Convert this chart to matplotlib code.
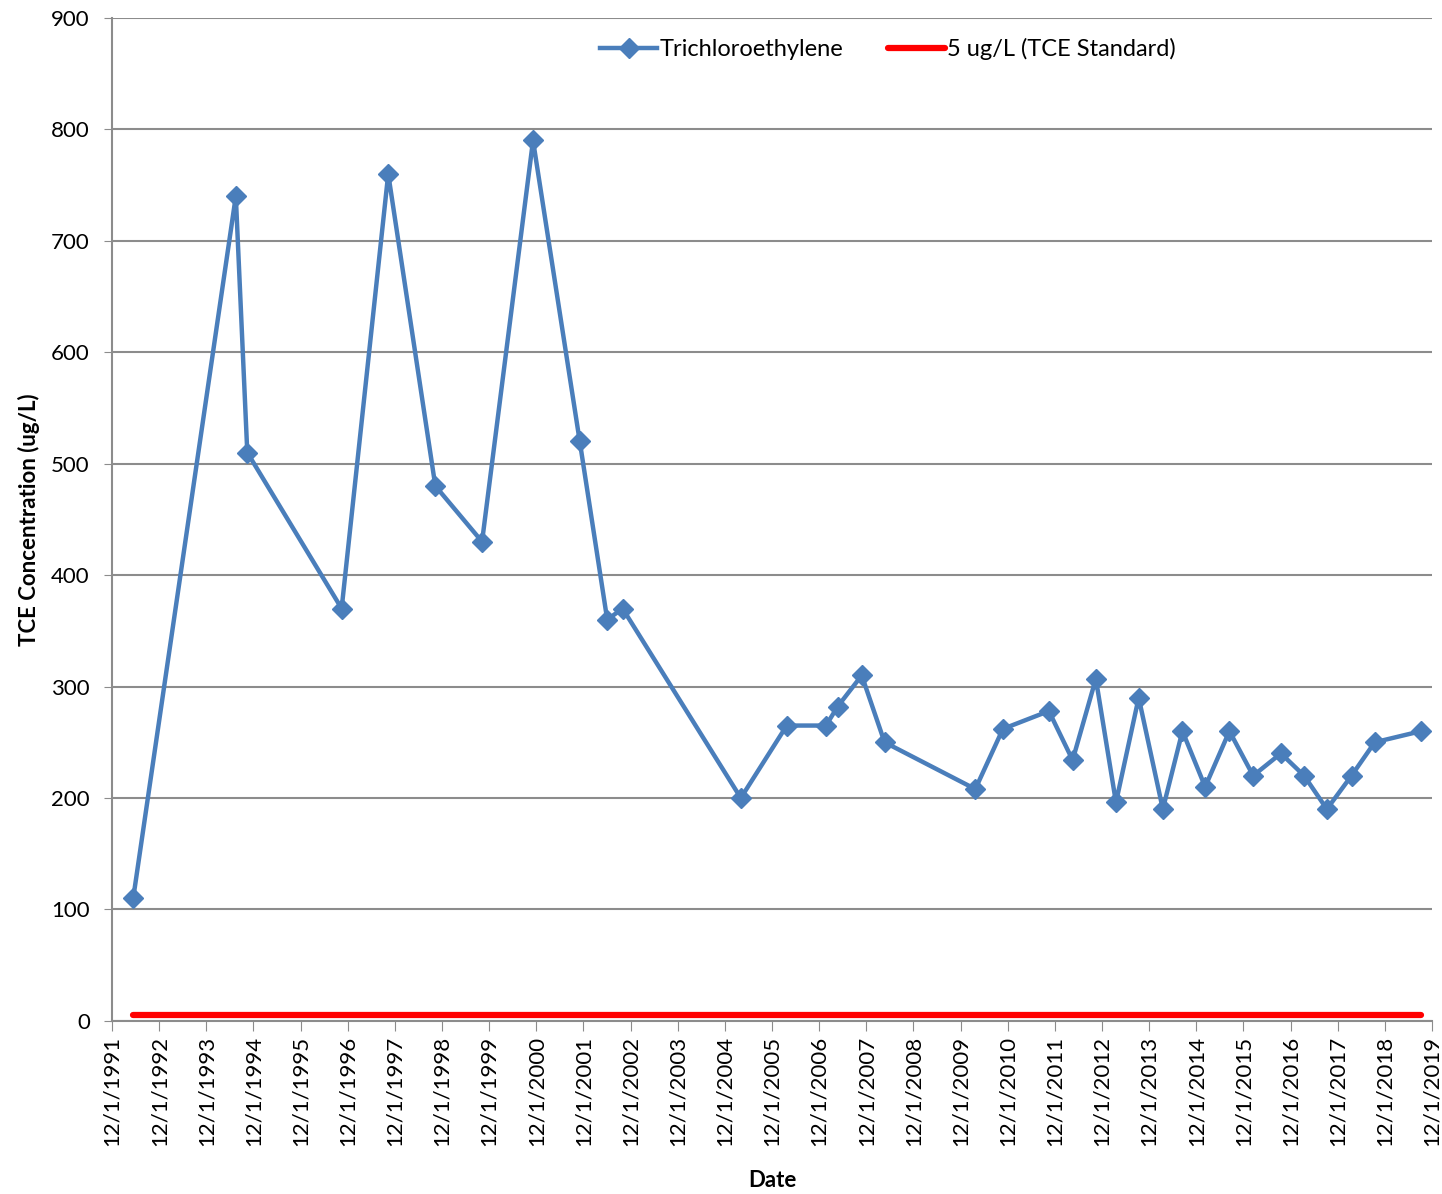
import matplotlib
matplotlib.use("Agg")
import matplotlib.pyplot as plt
import matplotlib.dates as mdates
import pandas as pd

# sampling dates and TCE concentrations (ug/L)
sample_dates = [
    "1992-05-13", "1994-07-17", "1994-10-14", "1996-10-14", "1997-10-10",
    "1998-10-10", "1999-10-07", "2000-11-05", "2001-11-02", "2002-06-03",
    "2002-09-30", "2005-04-03", "2006-03-25", "2007-01-23", "2007-04-23",
    "2007-10-27", "2008-04-21", "2010-03-25", "2010-10-25", "2011-10-16",
    "2012-04-17", "2012-10-14", "2013-03-19", "2013-09-11", "2014-03-17",
    "2014-08-16", "2015-02-08", "2015-08-15", "2016-02-15", "2016-09-17",
    "2017-03-16", "2017-09-08", "2018-03-18", "2018-09-14", "2019-09-09",
]
tce = [
    110, 740, 510, 370, 760,
    480, 430, 790, 520, 360,
    370, 200, 265, 265, 282,
    310, 250, 208, 262, 278,
    234, 307, 196, 290, 190,
    260, 210, 260, 220, 240,
    220, 190, 220, 250, 260,
]
standard = 5
tick_years = list(range(1991, 2020))

dates = pd.to_datetime(sample_dates)
ticks = [pd.Timestamp(year=y, month=12, day=1) for y in tick_years]
grid_color = "#8c8c8c"


def date_label(v, pos):
    d = mdates.num2date(v)
    return f"{d.month}/{d.day}/{d.year}"


plt.rcParams["font.family"] = ["Lato", "DejaVu Sans"]

fig = plt.figure(figsize=(14.42, 11.94), dpi=100)
ax = fig.add_axes([0.0777, 0.145, 0.9153, 0.840])

ax.plot(dates, tce, color="#4a7ebb", lw=3.2, marker="D", ms=10,
        label="Trichloroethylene", zorder=3)
ax.plot([dates[0], dates[-1]], [standard, standard], color="#ff0000",
        lw=4.5, solid_capstyle="round", label="5 ug/L (TCE Standard)", zorder=2)

ax.set_xlim(ticks[0], ticks[-1])
ax.set_ylim(0, 900)
ax.set_yticks(range(0, 901, 100))
ax.set_xticks(ticks)
ax.xaxis.set_major_formatter(plt.FuncFormatter(date_label))
ax.tick_params(axis="x", labelrotation=90, labelsize=16, length=7, color=grid_color, pad=4)
ax.tick_params(axis="y", labelsize=16, length=6, color=grid_color, pad=10)

ax.grid(axis="y", color=grid_color, lw=1.5)
ax.set_axisbelow(True)
for side in ("top", "right"):
    ax.spines[side].set_visible(False)
for side in ("left", "bottom"):
    ax.spines[side].set_color(grid_color)
    ax.spines[side].set_linewidth(1.5)

ax.set_xlabel("Date", fontsize=16, fontweight="bold", labelpad=17)
ax.set_ylabel("TCE Concentration (ug/L)", fontsize=16, fontweight="bold", labelpad=8)

ax.legend(loc="center", bbox_to_anchor=(0.588, 0.969), ncol=2, frameon=False,
          fontsize=17, handlelength=2.4, handletextpad=0.1, columnspacing=1.9)

fig.savefig("out.png", dpi=100)
